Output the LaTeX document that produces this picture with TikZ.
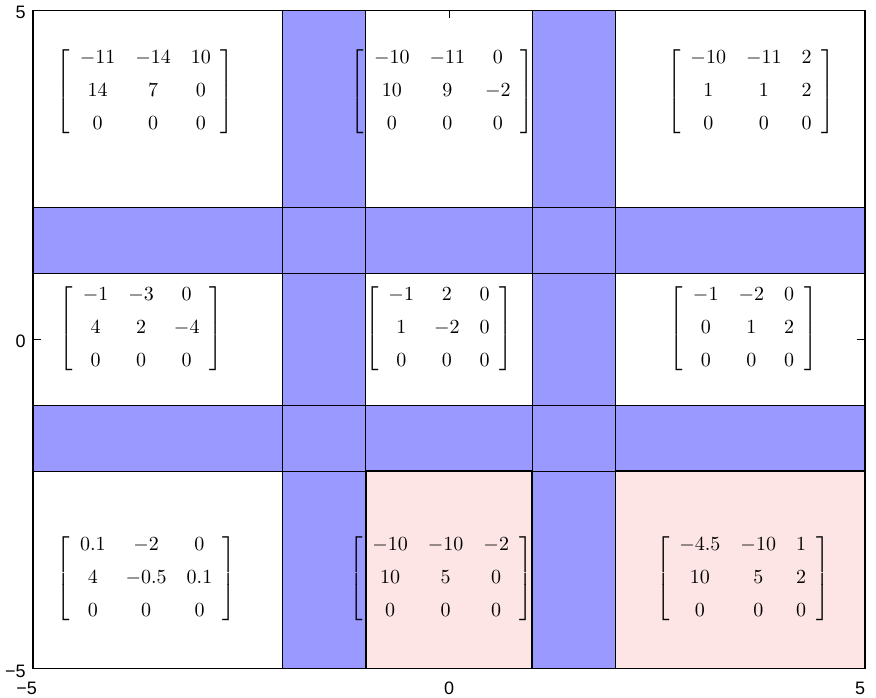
\documentclass[tikz,border=0pt]{standalone}
\usepackage{amsmath}
\usepackage{fontspec}
\newfontfamily\axfont{Liberation Sans}
\definecolor{bandblue}{RGB}{153,153,255}
\definecolor{cellpink}{RGB}{253,229,229}
\newcommand{\mtx}[1]{{\arraycolsep=5pt$\left[\begin{array}{ccc}#1\end{array}\right]$}}
\tikzset{
  band/.style={fill=bandblue, draw=none},
  pinkcell/.style={fill=cellpink, draw=black, line width=0.9pt},
  gridline/.style={draw=black, line width=0.5pt},
  frameline/.style={draw=black, line width=0.6pt},
  mat/.style={inner sep=0pt},
  axlab/.style={font=\axfont\fontsize{9}{10}\selectfont, inner sep=0pt}
}
\begin{document}
\begin{tikzpicture}[x=41.6pt, y=32.9pt]
\useasboundingbox (-5.397,-5.448) rectangle (5.132,5.160);
% blue bands
\fill[band] (-2,-5) rectangle (-1,5);
\fill[band] (1,-5) rectangle (2,5);
\fill[band] (-5,1) rectangle (5,2);
\fill[band] (-5,-2) rectangle (5,-1);
% pink cells
\draw[pinkcell] (-1,-5) rectangle (1,-2);
\draw[pinkcell] (2,-5) rectangle (5,-2);
% grid lines
\foreach \x in {-2,-1,1,2} \draw[gridline] (\x,-5) -- (\x,5);
\foreach \y in {-2,-1,1,2} \draw[gridline] (-5,\y) -- (5,\y);
% frame
\draw[frameline] (-5,-5) rectangle (5,5);
% ticks
\draw[gridline] (0,5) -- (0,4.89);
\draw[gridline] (-5,0) -- (-4.9,0);
\draw[gridline] (5,0) -- (4.9,0);
% matrices
\node[mat] (tl) at (-3.65,3.77) {\mtx{-11 & -14 & 10\\[4.5pt] 14 & 7 & 0\\[4.5pt] 0 & 0 & 0}};
\node[mat] (tc) at (-0.08,3.77) {\mtx{-10 & -11 & 0\\[4.5pt] 10 & 9 & -2\\[4.5pt] 0 & 0 & 0}};
\node[mat] (tr) at (3.63,3.77) {\mtx{-10 & -11 & 2\\[4.5pt] 1 & 1 & 2\\[4.5pt] 0 & 0 & 0}};
\node[mat] (ml) at (-3.70,0.17) {\mtx{-1 & -3 & 0\\[4.5pt] 4 & 2 & -4\\[4.5pt] 0 & 0 & 0}};
\node[mat] (mc) at (-0.12,0.17) {\mtx{-1 & 2 & 0\\[4.5pt] 1 & -2 & 0\\[4.5pt] 0 & 0 & 0}};
\node[mat] (mr) at (3.54,0.17) {\mtx{-1 & -2 & 0\\[4.5pt] 0 & 1 & 2\\[4.5pt] 0 & 0 & 0}};
\node[mat] (bl) at (-3.64,-3.64) {\mtx{0.1 & -2 & 0\\[4.5pt] 4 & -0.5 & 0.1\\[4.5pt] 0 & 0 & 0}};
\node[mat] (bc) at (-0.10,-3.64) {\mtx{-10 & -10 & -2\\[4.5pt] 10 & 5 & 0\\[4.5pt] 0 & 0 & 0}};
\node[mat] (br) at (3.53,-3.64) {\mtx{-4.5 & -10 & 1\\[4.5pt] 10 & 5 & 2\\[4.5pt] 0 & 0 & 0}};
% tick labels
\node[axlab, anchor=east] (ly5) at (-5.084,4.977) {5};
\node[axlab, anchor=east] (ly0) at (-5.084,-0.023) {0};
\node[axlab, anchor=east] (lym5) at (-5.084,-5.046) {−5};
\node[axlab] (lxm5) at (-5.076,-5.296) {−5};
\node[axlab] (lx0) at (0,-5.296) {0};
\node[axlab] (lx5) at (4.94,-5.296) {5};
\end{tikzpicture}
\end{document}
